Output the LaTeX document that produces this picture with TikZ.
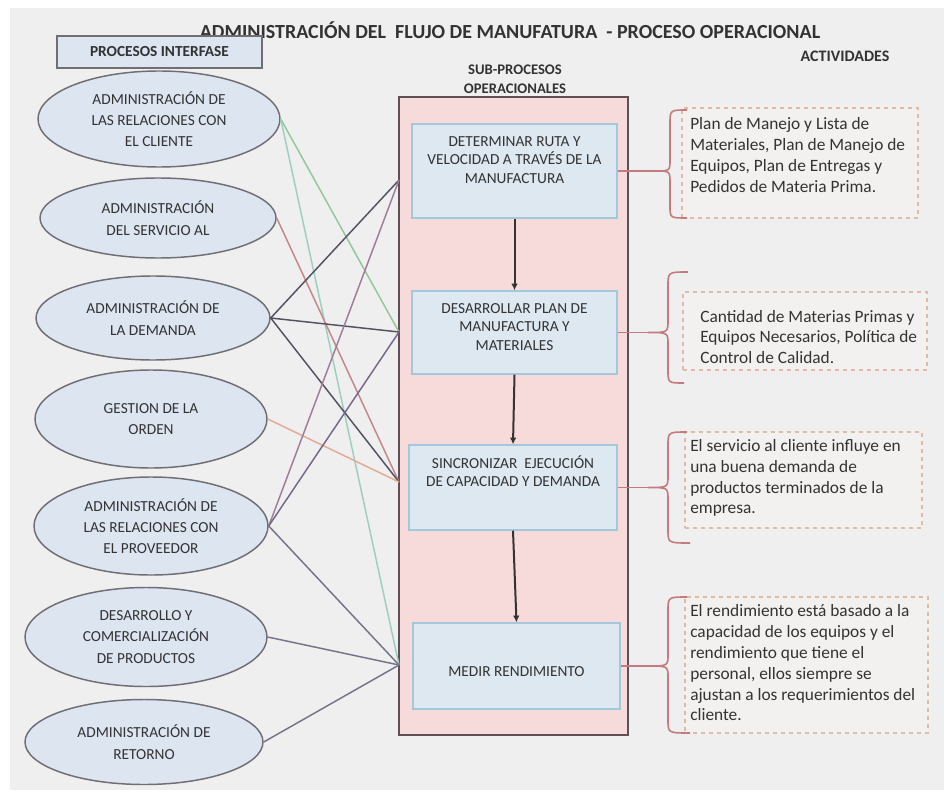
\documentclass[tikz,border=0pt]{standalone}
\usepackage{fontspec}
\setmainfont{Carlito}
\usetikzlibrary{shapes.geometric,arrows.meta}

\definecolor{bgcol}{HTML}{EFEFEF}
\definecolor{txt}{HTML}{333333}
\definecolor{ellfill}{HTML}{DCE5F0}
\definecolor{elldraw}{HTML}{6E6E74}
\definecolor{subfill}{HTML}{F7DADA}
\definecolor{subdraw}{HTML}{5E5054}
\definecolor{boxfill}{HTML}{DEE8F0}
\definecolor{boxdraw}{HTML}{A3C8DC}
\definecolor{actdraw}{HTML}{E2BBA4}
\definecolor{actfill}{HTML}{F3F1EF}
\definecolor{bracecol}{HTML}{C47A7E}
\definecolor{lgreen}{HTML}{93C79A}
\definecolor{lteal}{HTML}{9CCFC0}
\definecolor{lred}{HTML}{C48686}
\definecolor{ldark}{HTML}{525262}
\definecolor{lsalmon}{HTML}{E3AA92}
\definecolor{lmauve}{HTML}{A07C9A}
\definecolor{lpurple}{HTML}{76678A}
\definecolor{lgray}{HTML}{74748A}

\tikzset{
  proc/.style={ellipse, draw=elldraw, line width=1.1pt, fill=ellfill, inner sep=0pt,
    align=center, text=txt, font=\fontsize{11.5}{16}\selectfont},
  subbox/.style={rectangle, draw=boxdraw, line width=1.1pt, fill=boxfill, inner sep=0pt},
  boxtext/.style={align=center, text=txt, font=\fontsize{11.5}{14}\selectfont, inner sep=0pt},
  actbox/.style={rectangle, draw=actdraw, dashed, line width=0.8pt, fill=actfill,
    inner sep=0pt},
  acttext/.style={align=left, anchor=west, text=txt, font=\fontsize{13}{15.6}\selectfont, inner sep=0pt},
  head/.style={font=\bfseries\fontsize{11.5}{14}\selectfont, text=txt, align=center},
  flowarrow/.style={draw=txt, line width=1.5pt, -{Latex[length=5pt,width=5pt]}},
  link/.style={line width=1.1pt},
  brace/.style={draw=bracecol, line width=1.2pt},
}

\begin{document}
\begin{tikzpicture}[x=0.75pt,y=-0.75pt]
\useasboundingbox (0,0) rectangle (944,802);
\fill[white] (0,0) rectangle (944,802);
\fill[bgcol] (10,8) rectangle (944,790);

% headings
\node[font=\bfseries\fontsize{15}{18}\selectfont, text=txt] (title) at (510,30)
  {ADMINISTRACIÓN DEL\ \ FLUJO DE MANUFATURA\ \ - PROCESO OPERACIONAL};
\node[head, draw=elldraw, line width=1.2pt, fill=ellfill, minimum width=153.75pt,
  minimum height=24pt, inner sep=0pt] (ph) at (159.5,52) {PROCESOS INTERFASE};
\node[head, font=\bfseries\fontsize{12}{14}\selectfont] (acth) at (845,56) {ACTIVIDADES};
\node[head, font=\bfseries\fontsize{11}{14.5}\selectfont] (subh) at (515,79) {SUB-PROCESOS\\OPERACIONALES};

% interface processes
\node[proc, minimum width=181.5pt, minimum height=72pt] (e1) at (159,119)
  {ADMINISTRACIÓN DE\\LAS RELACIONES CON\\EL CLIENTE};
\node[proc, minimum width=177pt, minimum height=60pt] (e2) at (158,218)
  {ADMINISTRACIÓN\\DEL SERVICIO AL};
\node[proc, minimum width=175.5pt, minimum height=63pt] (e3) at (153,318)
  {ADMINISTRACIÓN DE\\LA DEMANDA};
\node[proc, minimum width=174pt, minimum height=73.5pt] (e4) at (151,419)
  {GESTION DE LA\\ORDEN};
\node[proc, minimum width=175.5pt, minimum height=73.5pt] (e5) at (151,526)
  {ADMINISTRACIÓN DE\\LAS RELACIONES CON\\EL PROVEEDOR};
\node[proc, minimum width=181.5pt, minimum height=74.25pt] (e6) at (146,637)
  {DESARROLLO Y\\COMERCIALIZACIÓN\\DE PRODUCTOS};
\node[proc, minimum width=178.5pt, minimum height=63.75pt] (e7) at (144,742)
  {ADMINISTRACIÓN DE\\RETORNO};

% operational sub-processes container
\node[rectangle, draw=subdraw, line width=1.5pt, fill=subfill, inner sep=0pt,
  minimum width=171.75pt, minimum height=478.5pt] (sub) at (513.5,416) {};

\node[subbox, minimum width=153.75pt, minimum height=70.5pt] (b1) at (514.5,171) {};
\node[subbox, minimum width=153.75pt, minimum height=62.25pt] (b2) at (514.5,332.5) {};
\node[subbox, minimum width=156pt, minimum height=63.75pt] (b3) at (513,487.5) {};
\node[subbox, minimum width=155.25pt, minimum height=64.5pt] (b4) at (516.5,666) {};

\node[boxtext] (t1) at (514.5,160) {DETERMINAR RUTA Y\\VELOCIDAD A TRAVÉS DE LA\\MANUFACTURA};
\node[boxtext] (t2) at (514.5,327) {DESARROLLAR PLAN DE\\MANUFACTURA Y\\MATERIALES};
\node[boxtext] (t3) at (513,471) {SINCRONIZAR\ \ EJECUCIÓN\\DE CAPACIDAD Y DEMANDA};
\node[boxtext] (t4) at (516.5,672) {MEDIR RENDIMIENTO};

\draw[flowarrow] (b1.south) -- (b2.north);
\draw[flowarrow] (b2.south) -- (b3.north);
\draw[flowarrow] (b3.south) -- (b4.north);

% entry points on the container's left side
\coordinate (p1) at (399,180);
\coordinate (p2) at (399,332);
\coordinate (p3) at (399,482);
\coordinate (p4) at (399,665);

\draw[link, lgreen] (e1.east) -- (p2);
\draw[link, lteal] (e1.east) -- (p4);
\draw[link, lred] (e2.east) -- (p3);
\draw[link, ldark] (e3.east) -- (p1);
\draw[link, ldark] (e3.east) -- (p2);
\draw[link, ldark] (e3.east) -- (p3);
\draw[link, lsalmon] (e4.east) -- (p3);
\draw[link, lmauve] (e5.east) -- (p1);
\draw[link, lpurple] (e5.east) -- (p2);
\draw[link, lgray] (e5.east) -- (p4);
\draw[link, lgray] (e6.east) -- (p4);
\draw[link, lgray] (e7.east) -- (p4);

% activities
\node[actbox, minimum width=177pt, minimum height=82.5pt] (a1) at (800,163) {};
\node[actbox, minimum width=183pt, minimum height=58.5pt] (a2) at (805,331) {};
\node[actbox, minimum width=177.75pt, minimum height=72pt] (a3) at (803.5,480) {};
\node[actbox, minimum width=182.25pt, minimum height=102pt] (a4) at (806.5,665) {};

\node[acttext] (x1) at (690,155) {Plan de Manejo y Lista de\\Materiales, Plan de Manejo de\\Equipos, Plan de Entregas y\\Pedidos de Materia Prima.};
\node[acttext] (x2) at (700,337) {Cantidad de Materias Primas y\\Equipos Necesarios, Política de\\Control de Calidad.};
\node[acttext] (x3) at (690,478) {El servicio al cliente influye en\\una buena demanda de\\productos terminados de la\\empresa.};
\node[acttext] (x4) at (690,663) {El rendimiento está basado a la\\capacidad de los equipos y el\\rendimiento que tiene el\\personal, ellos siempre se\\ajustan a los requerimientos del\\cliente.};

% braces linking sub-processes to activities
\coordinate (k1) at (655,171);
\coordinate (k2) at (648,332.5);
\coordinate (k3) at (648,487.5);
\coordinate (k4) at (648,666);

\draw[brace] (b1.east) -- (k1);
\draw[brace] (b2.east) -- (k2);
\draw[brace] (b3.east) -- (k3);
\draw[brace] (b4.east) -- (k4);

\draw[brace] (687,110) .. controls (670,110) .. (670,124) -- (670,159)
  .. controls (670,171) .. (k1) .. controls (670,171) .. (670,183) -- (670,206)
  .. controls (670,218) .. (687,218);
\draw[brace] (688,272) .. controls (668,272) .. (668,286) -- (668,320)
  .. controls (668,332.5) .. (k2) .. controls (668,332.5) .. (668,345) -- (668,370)
  .. controls (668,383) .. (684,383);
\draw[brace] (687,432) .. controls (668,432) .. (668,446) -- (668,475)
  .. controls (668,487.5) .. (k3) .. controls (668,487.5) .. (668,500) -- (668,530)
  .. controls (668,543) .. (690,543);
\draw[brace] (687,597) .. controls (668,597) .. (668,611) -- (668,654)
  .. controls (668,666) .. (k4) .. controls (668,666) .. (668,678) -- (668,720)
  .. controls (668,733) .. (690,733);
\end{tikzpicture}
\end{document}
